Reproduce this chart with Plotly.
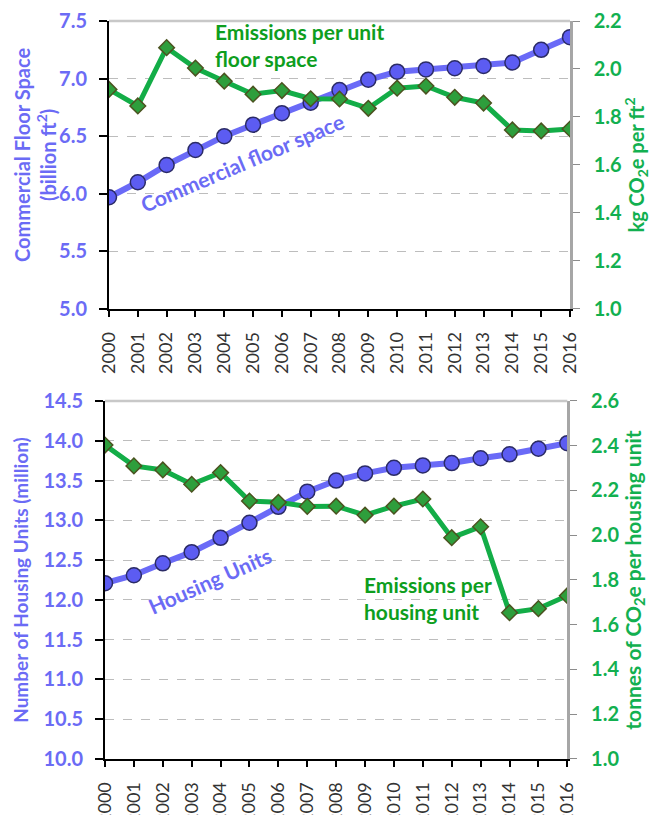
import plotly.graph_objects as go

years = list(range(2000, 2017))

floor_space = [5.97, 6.10, 6.25, 6.38, 6.50, 6.60, 6.70, 6.79, 6.90, 6.99,
               7.06, 7.08, 7.09, 7.11, 7.14, 7.25, 7.36]
emis_per_ft2 = [1.915, 1.846, 2.089, 2.004, 1.949, 1.895, 1.91, 1.876, 1.875, 1.836,
                1.92, 1.929, 1.882, 1.858, 1.746, 1.742, 1.75]

housing_units = [12.21, 12.31, 12.46, 12.60, 12.78, 12.97, 13.17, 13.36, 13.50, 13.59,
                 13.66, 13.69, 13.72, 13.78, 13.83, 13.90, 13.97]
emis_per_unit = [2.403, 2.31, 2.292, 2.228, 2.28, 2.153, 2.147, 2.129, 2.13, 2.09,
                 2.13, 2.162, 1.989, 2.038, 1.654, 1.672, 1.73]

BLUE = "#6A6AF7"
BLUE_TXT = "#6B6BF5"
GREEN = "#13AD47"
GREEN_TXT = "#0E9E1E"
GREEN_AX = "#12B050"
FONT = "Lato"

fig = go.Figure()

blue_line = dict(color=BLUE, width=6)
blue_marker = dict(symbol="circle", size=15, color="#5C5CF2", line=dict(color="#2B2B66", width=1.5))
green_line = dict(color=GREEN, width=5)
green_marker = dict(symbol="diamond", size=12, color="#2E9E3C", line=dict(color="#4B5320", width=1.5))

fig.add_trace(go.Scatter(x=years, y=floor_space, mode="lines+markers", line=blue_line,
                         marker=blue_marker, xaxis="x", yaxis="y", showlegend=False))
fig.add_trace(go.Scatter(x=years, y=emis_per_ft2, mode="lines+markers", line=green_line,
                         marker=green_marker, xaxis="x", yaxis="y2", showlegend=False))
fig.add_trace(go.Scatter(x=years, y=housing_units, mode="lines+markers", line=blue_line,
                         marker=blue_marker, xaxis="x2", yaxis="y3", showlegend=False))
fig.add_trace(go.Scatter(x=years, y=emis_per_unit, mode="lines+markers", line=green_line,
                         marker=green_marker, xaxis="x2", yaxis="y4", showlegend=False))

xcommon = dict(
    range=[2000, 2016], tickmode="linear", dtick=1, tickangle=-90, automargin=False,
    showline=True, linecolor="black", linewidth=2, ticks="outside", ticklen=6,
    tickcolor="black", tickwidth=1.5, showgrid=False, zeroline=False,
    ticklabelstandoff=8,
    tickfont=dict(family=FONT, size=18, color="#333333"),
)
left_common = dict(
    showline=True, linecolor="black", linewidth=2, ticks="outside", ticklen=8,
    tickcolor="black", tickwidth=1.5, showgrid=True, gridcolor="#BDBDBD",
    griddash="dash", gridwidth=1.2, zeroline=False, automargin=False,
    ticklabelstandoff=8,
    tickfont=dict(family=FONT, size=20, color=BLUE_TXT, weight="bold"),
)
right_common = dict(
    side="right", showline=True, linecolor="#A6A6A6", linewidth=2.5, ticks="outside",
    ticklen=7, tickcolor="#8C8C8C", showgrid=False, zeroline=False, automargin=False,
    ticklabelstandoff=10,
    tickfont=dict(family=FONT, size=20, color=GREEN_AX, weight="bold"),
)

fig.update_layout(
    width=651, height=815,
    paper_bgcolor="white", plot_bgcolor="white",
    margin=dict(l=105, r=81, t=21, b=56),
    font=dict(family=FONT),
    xaxis=dict(domain=[0.0086, 1.0], anchor="y", **xcommon),
    yaxis=dict(domain=[0.6098, 1.0], anchor="x", range=[5.0, 7.5], dtick=0.5,
               tickformat=".1f", **left_common),
    yaxis2=dict(overlaying="y", anchor="x", range=[1.0, 2.2], dtick=0.2, tickformat=".1f",
                title=dict(text="<b>kg CO<sub>2</sub>e per ft<sup>2</sup></b>",
                           font=dict(family=FONT, size=20, color=GREEN_AX), standoff=12),
                **right_common),
    xaxis2=dict(domain=[0.0, 0.9942], anchor="y3", **xcommon),
    yaxis3=dict(domain=[0.0, 0.4851], anchor="x2", range=[10.0, 14.5], dtick=0.5,
                tickformat=".1f",
                title=dict(text="<b>Number of Housing Units (million)</b>",
                           font=dict(family=FONT, size=19, color=BLUE_TXT), standoff=10),
                **left_common),
    yaxis4=dict(overlaying="y3", anchor="x2", range=[1.0, 2.6], dtick=0.2, tickformat=".1f",
                title=dict(text="<b>tonnes of CO<sub>2</sub>e per housing unit</b>",
                           font=dict(family=FONT, size=21, color=GREEN_AX), standoff=8),
                **right_common),
)

# two-line left title of the upper panel, placed by hand
fig.add_annotation(x=-0.152, y=0.819, xref="paper", yref="paper",
                   text="<b>Commercial Floor Space</b><br><b>(billion ft<sup>2</sup>)</b>",
                   textangle=-90, showarrow=False, xanchor="center", yanchor="middle",
                   font=dict(family=FONT, size=20, color=BLUE_TXT))

# light top border of each panel
for ya, xa in (("y", "x"), ("y3", "x2")):
    fig.add_shape(type="line", xref=f"{xa} domain", yref=f"{ya} domain",
                  x0=0, x1=1, y0=1, y1=1, line=dict(color="#C8C8C8", width=2.5))

ann_font = dict(family=FONT, size=21)
fig.add_annotation(x=2004.62, y=6.27, xref="x", yref="y", text="<b>Commercial floor space</b>",
                   textangle=-23, showarrow=False, font=dict(color=BLUE_TXT, **ann_font))
fig.add_annotation(x=2003.62, y=7.29, xref="x", yref="y", xanchor="left", align="left",
                   text="<b>Emissions per unit<br>floor space</b>", showarrow=False,
                   font=dict(color=GREEN_TXT, **ann_font))
fig.add_annotation(x=2003.63, y=12.24, xref="x2", yref="y3", text="<b>Housing Units</b>",
                   textangle=-24, showarrow=False, font=dict(color=BLUE_TXT, **ann_font))
fig.add_annotation(x=2008.9, y=12.02, xref="x2", yref="y3", xanchor="left", align="left",
                   text="<b>Emissions per<br>housing unit</b>", showarrow=False,
                   font=dict(color=GREEN_TXT, **ann_font))

# drop the default page margin so the figure fills the window exactly
fig.write_html("out.html", config={"displayModeBar": False},
               post_script="document.body.style.margin='0';")
